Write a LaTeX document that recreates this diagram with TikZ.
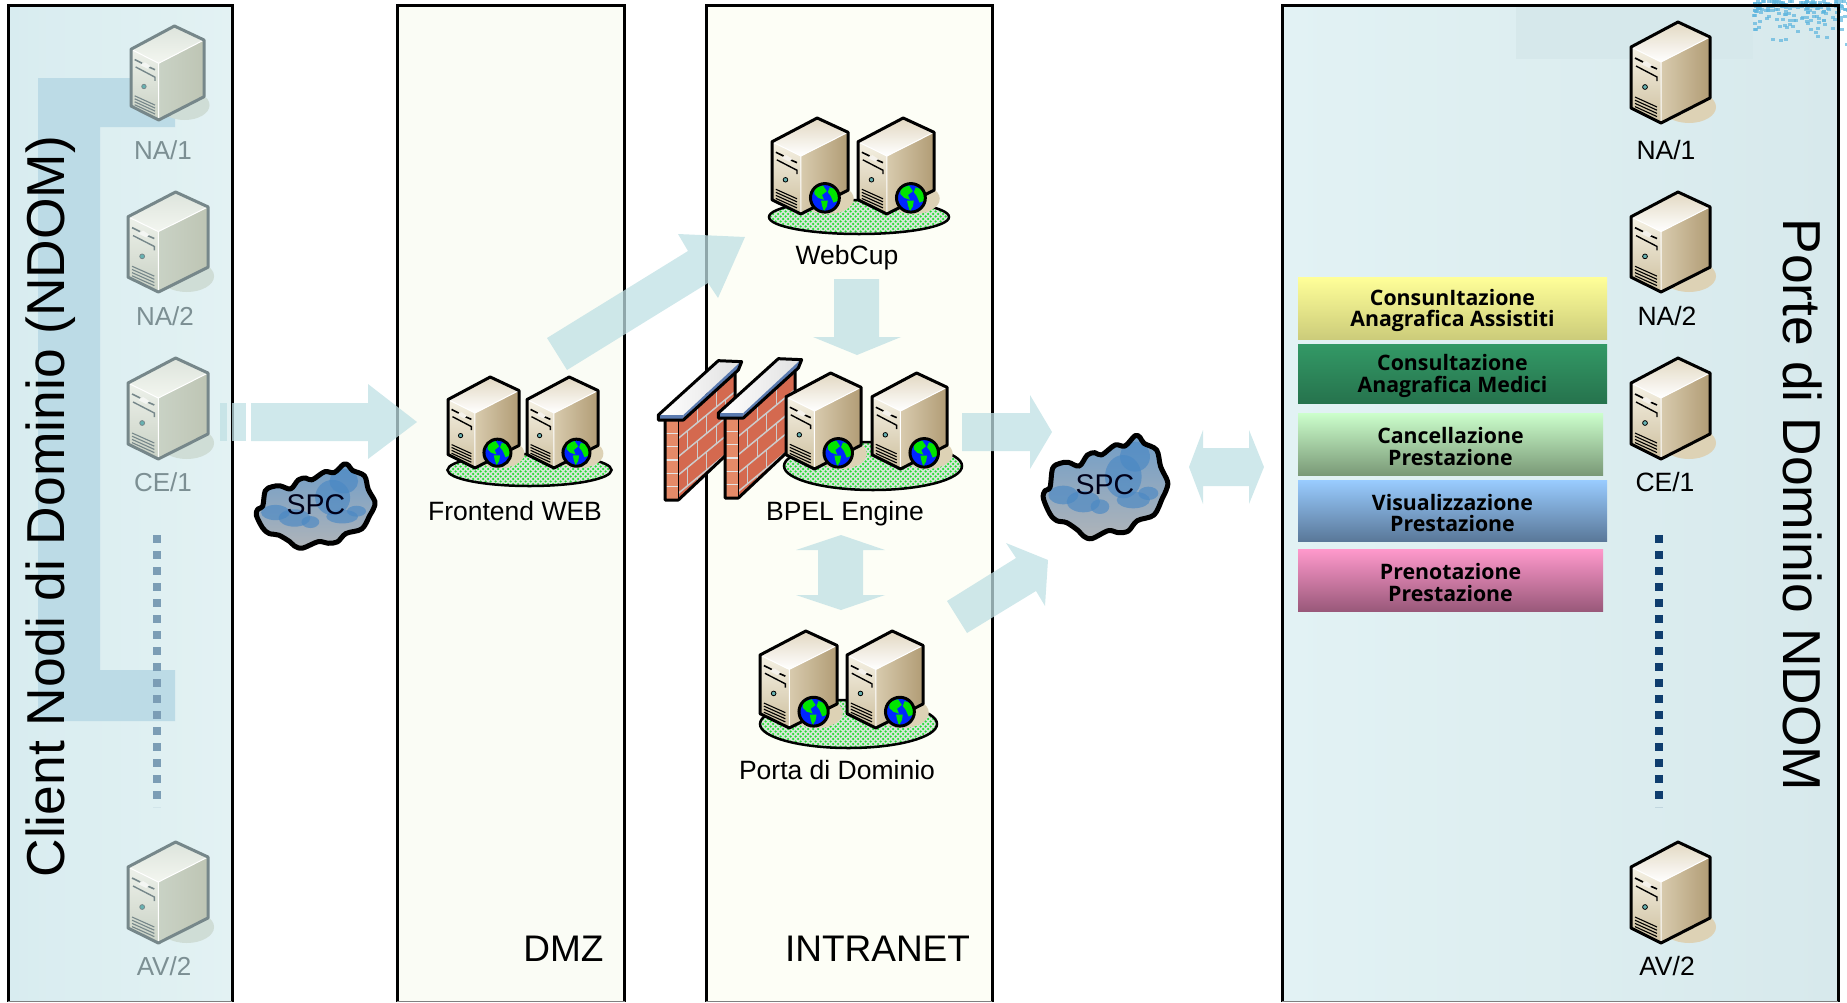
\documentclass[tikz,border=0pt]{standalone}
\usepackage{fontspec}
\setmainfont{Liberation Sans}
\newfontfamily\boxfont{Open Sans}
\usetikzlibrary{patterns}
\pgfdeclarepatternformonly{floordots}{\pgfqpoint{-1pt}{-1pt}}{\pgfqpoint{6pt}{6pt}}{\pgfqpoint{5pt}{5pt}}{%
  \pgfpathcircle{\pgfqpoint{0.5pt}{0.5pt}}{1.25pt}%
  \pgfpathcircle{\pgfqpoint{3pt}{3pt}}{1.25pt}%
  \pgfusepath{fill}}
\definecolor{srvLine}{HTML}{000000}
\definecolor{srvShadow}{HTML}{DDD2B5}
\definecolor{srvTopA}{HTML}{E2D8C2}
\definecolor{srvTopB}{HTML}{FFFFFF}
\definecolor{srvFrontA}{HTML}{F5F1E4}
\definecolor{srvFrontB}{HTML}{CDBF9E}
\definecolor{srvSideA}{HTML}{D8CBAE}
\definecolor{srvSideB}{HTML}{EDE6D6}
\definecolor{srvSideC}{HTML}{B19C75}
\definecolor{arrowTeal}{HTML}{BFE0E4}
\definecolor{labelGrey}{HTML}{7C8F93}
\definecolor{panelLA}{HTML}{D8ECF0}
\definecolor{panelLB}{HTML}{E3F2F3}
\definecolor{panelRA}{HTML}{E2F2F4}
\definecolor{panelRB}{HTML}{D7E9EC}
\definecolor{panelRC}{HTML}{D6E8EB}
\definecolor{bracketC}{HTML}{BCDBE6}
\definecolor{dotL}{HTML}{7B9DB5}
\definecolor{dotR}{HTML}{0F3D6E}
\definecolor{floorBack}{HTML}{D9E6D9}
\definecolor{floorDot}{HTML}{22DD33}
\definecolor{splashC}{HTML}{5DB5DE}
\newcommand{\fsz}[1]{\fontsize{#1}{#1}\selectfont}
\newcommand{\topfix}{\rule{0pt}{21pt}}
\tikzset{
  x=1pt,y=-1pt,
  panel/.style={draw=black,line width=3pt},
  bigarrow/.style={fill=arrowTeal,fill opacity=.75},
  srvlabel/.style={font=\fsz{26.5},inner sep=0pt,text=black},
  greylabel/.style={font=\fsz{26},inner sep=0pt,text=labelGrey},
  zonelabel/.style={font=\fsz{37},inner sep=0pt,anchor=base},
  sidetitle/.style={font=\fsz{53.4},inner sep=0pt,anchor=base},
  cloudlabel/.style={font=\fsz{28.5},inner sep=0pt,text=black!90!blue},
  svcbox/.style={inner sep=0pt,align=center,minimum height=#1,
     font=\boxfont\bfseries\fontsize{21.3}{21.6}\selectfont,text=black},
  floorell/.style={draw=black,line width=2.5pt},
  dotline/.style={line width=8pt,dash pattern=on 8pt off 8pt},
}
% server: x y w h globe(0/1)
\newcommand{\srv}[5]{%
\begin{scope}[shift={(#1,#2)},xscale=#3/79,yscale=#4/101]
  \fill[srvShadow] (58,85) ellipse [x radius=27,y radius=16];
  \path[left color=srvSideA,middle color=srvSideB,right color=srvSideC]
     (30,40)--(79,15)--(79,76)--(30,101)--cycle;
  \path[top color=srvFrontA,bottom color=srvFrontB]
     (0,25)--(30,40)--(30,101)--(0,86)--cycle;
  \path[shading angle=200,top color=srvTopA,bottom color=srvTopB]
     (0,25)--(47,0)--(79,15)--(30,40)--cycle;
  \draw[white,line width=1pt] (0,25)--(30,40)--(30,101) (30,40)--(79,15);
  \draw[srvLine,line width=1.6pt] (4,36)--(12,40) (17,43)--(26,47);
  \fill[white!80!srvFrontB] (10,42)--(15,39)--(21,43)--(18,46)--cycle;
  \draw[srvLine,line width=1.4pt] (5,44)--(26,55)--(26,59);
  \filldraw[draw=srvLine,fill=teal!60!white,line width=.8pt] (14,65) circle [radius=2.4];
  \foreach \v in {0,3.2,6.4,9.6}{\draw[srvLine,line width=1.1pt] (4,75+\v)--(26,85+\v);}
  \draw[srvLine,line width=3pt,line join=round]
     (0,25)--(47,0)--(79,15)--(79,76)--(30,101)--(0,86)--cycle;
  \ifnum#5=1
  \begin{scope}[shift={(55,84)}]
    \begin{scope}
      \clip (0,0) circle [radius=14.5];
      \fill[blue!85!cyan] (0,0) circle [radius=15];
      \fill[green!90!black] (-11,-10)--(-2,-13)--(2,-7)--(-3,-3)--(-1,2)--(-7,0)--(-11,-4)--cycle;
      \fill[green!90!black] (5,-11)--(14,-8)--(14,3)--(9,5)--(6,-2)--(3,-6)--cycle;
      \fill[green!90!black] (-4,3)--(3,3)--(2,9)--(-1,14)--(-3,8)--cycle;
    \end{scope}
    \draw[black,line width=3pt] (0,0) circle [radius=15];
  \end{scope}
  \fi
\end{scope}}
% faded server
\newcommand{\fsrv}[4]{%
\begingroup
\definecolor{srvLine}{HTML}{76878A}%
\definecolor{srvShadow}{HTML}{CFDDD6}%
\definecolor{srvTopA}{HTML}{DDE4DC}%
\definecolor{srvTopB}{HTML}{F3F6F0}%
\definecolor{srvFrontA}{HTML}{EDF1EA}%
\definecolor{srvFrontB}{HTML}{C9D1C4}%
\definecolor{srvSideA}{HTML}{C9D2C5}%
\definecolor{srvSideB}{HTML}{DAE2DA}%
\definecolor{srvSideC}{HTML}{BEC5B4}%
\srv{#1}{#2}{#3}{#4}{0}%
\endgroup}
% floor ellipse
\newcommand{\flr}[4]{%
  \fill[floorBack] (#1,#2) ellipse [x radius=#3,y radius=#4];
  \fill[pattern=floordots,pattern color=floorDot] (#1,#2) ellipse [x radius=#3,y radius=#4];
  \draw[floorell] (#1,#2) ellipse [x radius=#3,y radius=#4];}
% firewall, drawn in the scale of a 3x crop
\definecolor{brickFront}{HTML}{E58A68}
\definecolor{brickSide}{HTML}{D4694F}
\definecolor{brickCap}{HTML}{5B7BB0}
\newcommand{\fw}[2]{%
\begin{scope}[shift={(#1,#2)},scale=1/3]
  \fill[brickFront] (75,240) rectangle (115,480);
  \fill[brickSide] (115,240)--(285,100)--(285,320)--(115,480)--cycle;
  \begin{scope}
    \clip (75,240) rectangle (115,480);
    \foreach \i in {1,...,6}{\draw[black!10,line width=1.3pt] (75,240+40*\i)--(115,240+40*\i);}
  \end{scope}
  \begin{scope}
    \clip (115,240)--(285,100)--(285,320)--(115,480)--cycle;
    \foreach \i in {0,...,6}{
      \draw[black!20,line width=1.5pt] (115,240+55*\i)--(285,100+55*\i);
      \foreach \j in {0,1,2}{
        \pgfmathsetmacro{\xx}{115+28*mod(\i,2)+57*\j}
        \pgfmathsetmacro{\yy}{240+55*\i-(\xx-115)*0.8235}
        \draw[black!20,line width=1.5pt] (\xx,\yy)--(\xx,\yy+55);
      }
    }
  \end{scope}
  \draw[black,line width=3pt,line join=round] (285,100)--(285,320)--(115,480)--(75,480)--(75,240);
  \draw[black,line width=1pt] (115,240)--(115,480);
  \path[shading angle=135,left color=white,right color=black!12]
     (55,225)--(235,62)--(302,65)--(130,225)--cycle;
  \fill[brickCap] (55,225)--(130,225)--(130,240)--(60,240)--cycle;
  \fill[brickCap] (130,225)--(302,65)--(295,90)--(130,240)--cycle;
  \draw[black,line width=3pt,line join=round]
     (55,225)--(235,62)--(305,65)--(295,90)--(130,240)--(55,240)--cycle;
\end{scope}}
% cloud, in the scale of a 3x crop
\definecolor{cloudTop}{HTML}{6D9CC8}
\definecolor{cloudBot}{HTML}{B2B5B8}
\definecolor{cloudBlot}{HTML}{4A88C4}
\def\cloudpath{plot[smooth cycle,tension=.55] coordinates {
 (130,295)(135,272)(150,262)(158,205)(180,190)(205,187)(238,198)(262,165)(285,158)(305,165)(345,135)(375,138)(405,107)
 (420,112)(432,130)(470,150)(482,200)(503,245)(498,272)(487,295)(462,345)(412,362)(385,393)(355,398)(325,392)(275,416)(250,408)(235,392)(200,368)(170,362)(150,342)}}
\newcommand{\cloudy}[4]{%
\begin{scope}[shift={(#1,#2)},xscale=#3,yscale=#4]
  \begin{scope}
    \clip \cloudpath;
    \path[top color=cloudTop,bottom color=cloudBot] (110,90) rectangle (520,430);
    \foreach \cx/\cy/\rx/\ry in {190/285/45/28,250/305/50/32,300/320/28/22,370/230/55/65,405/170/45/45,400/300/50/25,445/280/30/20}{
      \fill[cloudBlot,opacity=.65] (\cx,\cy) ellipse [x radius=\rx,y radius=\ry];
    }
  \end{scope}
  \draw[black,line width=5pt,line join=round] \cloudpath;
\end{scope}}
\begin{document}
\begin{tikzpicture}
\useasboundingbox (0,0) rectangle (1847,1002);
% panels
\path[left color=panelLA,right color=panelLB] (8.5,5) rectangle (232,1015);
\draw[panel] (8.5,1015)--(8.5,5)--(232,5)--(232,1015);
\draw[panel,fill={rgb,255:red,250;green,252;blue,245}] (397,5) rectangle (624.5,1015);
\draw[panel,fill={rgb,255:red,253;green,254;blue,246}] (706,5) rectangle (992,1015);
\path[left color=panelRA,right color=panelRB] (1282,5) rectangle (1838,1015);
\fill[panelRC] (1516,5) rectangle (1753,59);
% splash top right
\begin{scope}
  \pgfmathsetseed{11}
  \clip (1740,0) rectangle (1847,50);
  \foreach \i in {1,...,170}{
    \pgfmathsetmacro{\px}{1752+95*rnd}
    \pgfmathsetmacro{\py}{46*rnd*rnd}
    \fill[splashC,opacity=.7] (\px,\py) rectangle (\px+4,\py+3);
  }
\end{scope}
\draw[panel] (1282,1015)--(1282,5)--(1838,5)--(1838,1015);
\draw[black!50,line width=1pt] (8,1001)--(232,1001) (397,1001)--(625,1001) (706,1001)--(992,1001) (1282,1001)--(1838,1001);
\fill[white] (0,1001.5) rectangle (1847,1010);
% bracket
\fill[bracketC]
  (38,78)--(175,78)--(175,127)--(100,127)--(100,670)--(175,670)--(175,721)--(38,721)--cycle;
% dots
\draw[dotline,draw=dotL] (157,535)--(157,807);
\draw[dotline,draw=dotR] (1659,535)--(1659,807);
% titles
\node[sidetitle,rotate=90] (lefttitle) at (64,506.5) {Client Nodi di Dominio (NDOM)};
\node[sidetitle,rotate=-90] (righttitle) at (1783,505) {Porte di Dominio NDOM};
% left servers
\fsrv{131}{26}{73}{94}
\fsrv{128}{192}{80}{100}
\fsrv{128}{358}{80}{101}
\fsrv{128}{842}{80}{101}
\node[greylabel] (lna1) at (163,150) {NA/1};
\node[greylabel] (lna2) at (165,316) {NA/2};
\node[greylabel] (lce1) at (163,482) {CE/1};
\node[greylabel] (lav2) at (164,966) {AV/2};
% right servers
\srv{1631}{22}{79}{101}{0}
\srv{1631}{192}{79}{100}{0}
\srv{1631}{358}{79}{101}{0}
\srv{1631}{842}{79}{101}{0}
\node[srvlabel] (rna1) at (1666,150) {NA/1};
\node[srvlabel] (rna2) at (1667,316) {NA/2};
\node[srvlabel] (rce1) at (1665,482) {CE/1};
\node[srvlabel] (rav2) at (1667,966) {AV/2};
% service boxes
\node[svcbox=62pt,minimum width=309pt,top color={rgb,255:red,255;green,255;blue,153},bottom color={rgb,255:red,204;green,204;blue,122}] (s1) at (1452.5,308) {\topfix ConsunItazione\\Anagrafica Assistiti};
\node[svcbox=59pt,minimum width=309pt,top color={rgb,255:red,51;green,153;blue,102},bottom color={rgb,255:red,38;green,115;blue,77}] (s2) at (1452.5,373.5) {\topfix Consultazione\\Anagrafica Medici};
\node[svcbox=62pt,minimum width=305pt,top color={rgb,255:red,204;green,255;blue,204},bottom color={rgb,255:red,122;green,153;blue,119}] (s3) at (1450.5,444) {\topfix Cancellazione\\Prestazione};
\node[svcbox=61pt,minimum width=309pt,top color={rgb,255:red,153;green,204;blue,255},bottom color={rgb,255:red,90;green,120;blue,153}] (s4) at (1452.5,510.5) {\topfix Visualizzazione\\Prestazione};
\node[svcbox=62pt,minimum width=305pt,top color={rgb,255:red,255;green,153;blue,204},bottom color={rgb,255:red,153;green,89;blue,122}] (s5) at (1450.5,580) {\topfix Prenotazione\\Prestazione};
% frontend
\flr{529.5}{470}{82}{16}
\srv{448}{377}{71}{91}{1}
\srv{527}{377}{71}{91}{1}
\node[srvlabel] (front) at (515,511) {Frontend WEB};
% webcup
\flr{859}{217}{90}{17}
\srv{772}{118}{76}{96}{1}
\srv{858}{118}{76}{96}{1}
\node[srvlabel] (webcup) at (847,258) {WebCup};
% bpel
\flr{873}{466}{89}{24}
\fw{640}{340}
\fw{700}{338}
\srv{786}{373}{75}{96}{1}
\srv{872}{373}{75}{96}{1}
\node[srvlabel] (bpel) at (845,514) {BPEL Engine};
% porta
\flr{848.5}{724}{88.5}{24}
\srv{760}{631}{77}{97}{1}
\srv{847}{631}{76}{97}{1}
\node[srvlabel] (porta) at (837,770) {Porta di Dominio};
% clouds
\cloudy{215}{435}{.318}{.272}
\node[cloudlabel] (spc1) at (316,505) {SPC};
\cloudy{1000}{400}{.3333}{.3333}
\node[cloudlabel] (spc2) at (1105,485) {SPC};
% zone labels
\node[zonelabel] (dmz) at (563.5,961) {DMZ};
\node[zonelabel] (intra) at (877.5,961) {INTRANET};
% arrows
\fill[bigarrow] (220,403) rectangle (227,441);
\fill[bigarrow] (232,403) rectangle (246,441);
\fill[bigarrow] (251,403)--(368,403)--(368,384)--(417,422)--(368,459)--(368,441)--(251,441)--cycle;
\fill[bigarrow] (547,338)--(688,251)--(678,234)--(745,237)--(718,298)--(708,283)--(567,370)--cycle;
\fill[bigarrow] (834,279)--(879,279)--(879,337)--(901,337)--(857,355)--(813,337)--(834,337)--cycle;
\fill[bigarrow] (841,535)--(885,550)--(863,550)--(863,595)--(885,595)--(841,610)--(796,595)--(818,595)--(818,550)--(796,550)--cycle;
\fill[bigarrow] (962,413)--(1030,413)--(1030,395)--(1052,432)--(1030,469)--(1030,451)--(962,451)--cycle;
\fill[bigarrow] (947,601)--(1016,558)--(1006,543)--(1048,560)--(1045,606)--(1036,591)--(967,633)--cycle;
\fill[bigarrow] (1189,467)--(1203,430)--(1203,448)--(1249,448)--(1249,430)--(1264,467)--(1249,504)--(1249,486)--(1203,486)--(1203,504)--cycle;
\end{tikzpicture}
\end{document}
